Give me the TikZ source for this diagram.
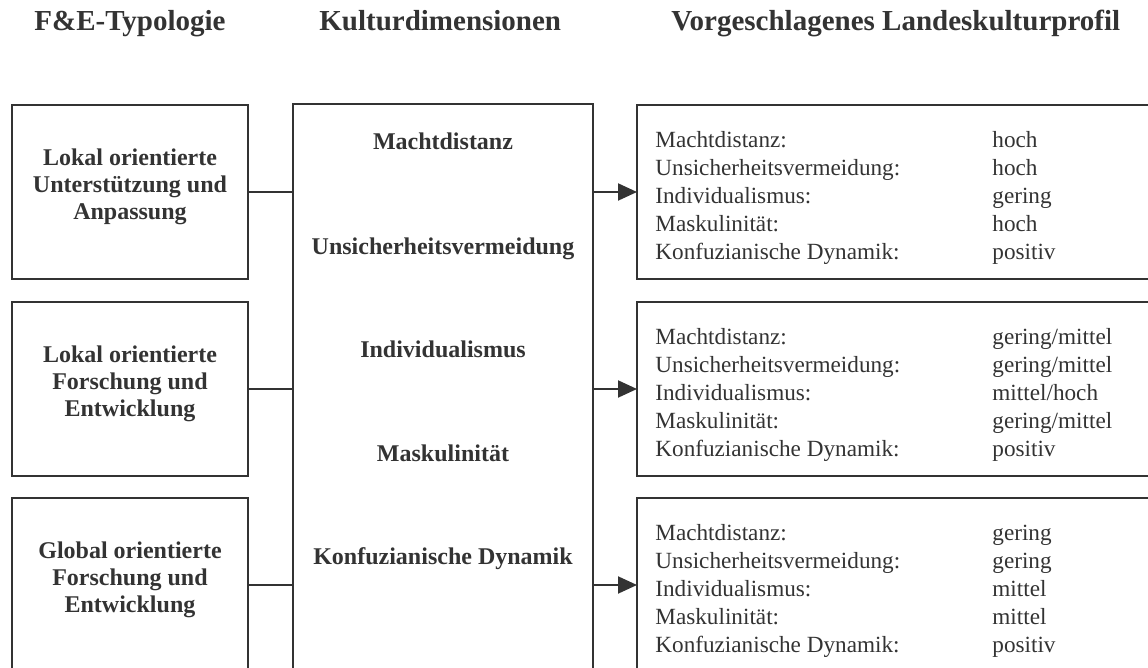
\documentclass[tikz,border=0pt]{standalone}
\usepackage{fontspec}
\setmainfont{Liberation Serif}
\usetikzlibrary{arrows.meta}
\definecolor{ink}{HTML}{333333}

% rows of one country-culture profile: label column and value column
\newcommand\profilerows[5]{%
  \begin{tabular}{@{}p{168.5pt}@{}l@{}}
    Machtdistanz: & #1\\
    Unsicherheitsvermeidung: & #2\\
    Individualismus: & #3\\
    Maskulinität: & #4\\
    Konfuzianische Dynamik: & #5
  \end{tabular}}

\begin{document}
\begin{tikzpicture}[x=0.5pt,y=-0.5pt,
  typbox/.style={draw=ink,line width=1pt,inner sep=0pt,outer sep=0pt,
    minimum width=118pt,minimum height=87pt},
  dimbox/.style={draw=ink,line width=1pt,inner sep=0pt,outer sep=0pt,
    minimum width=150pt,minimum height=307.75pt},
  profbox/.style={draw=ink,line width=1pt,inner sep=0pt,outer sep=0pt,
    minimum width=266.5pt,minimum height=87pt},
  boldtext/.style={font=\fontsize{12}{13.5}\selectfont\bfseries,text=ink,
    align=center,inner sep=0pt},
  proftext/.style={font=\fontsize{11.6}{14}\selectfont,text=ink,
    inner sep=0pt,anchor=west},
  coltitle/.style={font=\fontsize{14.5}{16}\selectfont\bfseries,text=ink,
    anchor=base west,inner sep=0pt},
  link/.style={draw=ink,line width=1pt},
  feed/.style={link,-{Triangle[length=9.5pt,width=8.5pt]}}]
\useasboundingbox (0,0) rectangle (1148,668);
\clip (0,0) rectangle (1148,668);

% column headings
\node[coltitle] (h1) at (34,31) {F\&E-Typologie};
\node[coltitle] (h2) at (319,31) {Kulturdimensionen};
\node[coltitle] (h3) at (671,31) {Vorgeschlagenes Landeskulturprofil};

% R&D types
\node[typbox] (l1) at (130,192) {};
\node[typbox] (l2) at (130,389) {};
\node[typbox] (l3) at (130,585) {};
\node[boldtext,yshift=2.8pt] (l1t) at (l1.center) {Lokal orientierte\\Unterstützung und\\Anpassung};
\node[boldtext,yshift=2.8pt] (l2t) at (l2.center) {Lokal orientierte\\Forschung und\\Entwicklung};
\node[boldtext,yshift=2.8pt] (l3t) at (l3.center) {Global orientierte\\Forschung und\\Entwicklung};

% culture dimensions
\node[dimbox] (mid) at (443,412.25) {};
\node[boldtext,anchor=base] (d1) at (443,150) {Machtdistanz};
\node[boldtext,anchor=base] (d2) at (443,255) {Unsicherheitsvermeidung};
\node[boldtext,anchor=base] (d3) at (443,358) {Individualismus};
\node[boldtext,anchor=base] (d4) at (443,462) {Maskulinität};
\node[boldtext,anchor=base] (d5) at (443,565) {Konfuzianische Dynamik};

% proposed profiles
\node[profbox] (r1) at (903.5,192) {};
\node[profbox] (r2) at (903.5,389) {};
\node[profbox] (r3) at (903.5,585) {};
\node[proftext,yshift=-2.8pt] (r1t) at (655,192)
  {\profilerows{hoch}{hoch}{gering}{hoch}{positiv}};
\node[proftext,yshift=-2.8pt] (r2t) at (655,389)
  {\profilerows{gering/mittel}{gering/mittel}{mittel/hoch}{gering/mittel}{positiv}};
\node[proftext,yshift=-2.8pt] (r3t) at (655,585)
  {\profilerows{gering}{gering}{mittel}{mittel}{positiv}};

% connectors
\foreach \i in {1,2,3}{
  \draw[link] (l\i.east) -- (l\i.east -| mid.west);
  \draw[feed] (r\i.west -| mid.east) -- (r\i.west);
}
\end{tikzpicture}
\end{document}
